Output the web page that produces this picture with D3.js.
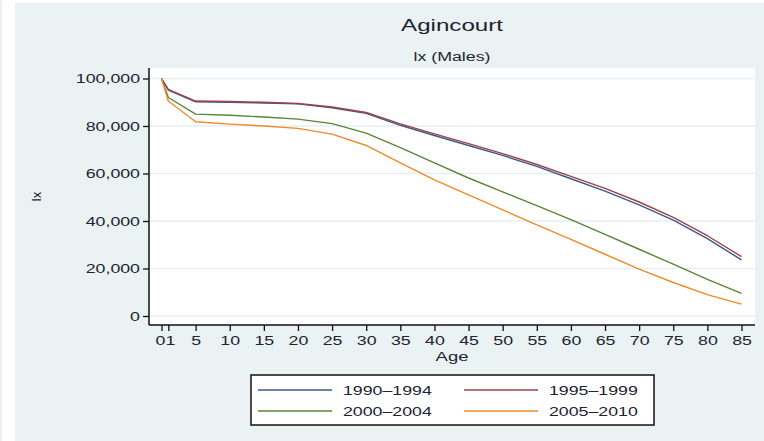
<!DOCTYPE html>
<html>
<head>
<meta charset="utf-8">
<script src="https://cdn.jsdelivr.net/npm/d3@7"></script>
<style>
  html, body { margin: 0; padding: 0; background: #ffffff; }
  svg { display: block; font-family: "Liberation Sans", Arial, Helvetica, sans-serif; }
</style>
</head>
<body>
<svg id="chart" width="764" height="441"></svg>
<script>
// Life-table survivors lx (males), Agincourt, by age and period
const ages = [0, 1, 5, 10, 15, 20, 25, 30, 35, 40, 45, 50, 55, 60, 65, 70, 75, 80, 85];
const lx1990 = [100000, 95100, 90200, 90000, 89700, 89300, 87700, 85300, 80300, 76000, 71800, 67600, 63000, 57800, 52600, 46800, 40400, 32600, 23600];
const lx1995 = [100000, 95400, 90500, 90300, 90000, 89500, 88000, 85700, 80900, 76700, 72600, 68400, 63800, 58800, 53700, 48000, 41500, 33800, 25000];
const lx2000 = [100000, 92000, 85000, 84500, 83800, 82900, 81000, 77000, 70900, 64500, 58100, 52300, 46500, 40600, 34400, 28100, 21800, 15400, 9500];
const lx2005 = [100000, 90500, 81800, 80800, 80000, 79000, 76600, 71800, 64500, 57300, 51000, 44700, 38400, 32300, 26000, 19700, 14100, 9000, 5000];
const periods = ["1990\u20131994", "1995\u20131999", "2000\u20132004", "2005\u20132010"];
const xTicks = [0, 1, 5, 10, 15, 20, 25, 30, 35, 40, 45, 50, 55, 60, 65, 70, 75, 80, 85];
const yTicks = [0, 20000, 40000, 60000, 80000, 100000];

const colors = ["#3b5b86", "#9c434a", "#5a8438", "#ee8a2a"];
const seriesValues = [lx1990, lx1995, lx2000, lx2005];

// text in this graph is set wide
const STRETCH = 1.42;
const TEXT = "#1e2430";

const svg = d3.select("#chart");

// place a horizontally widened label with its anchor at (x, y)
function label(parent, x, y, str, size, anchor) {
  return parent.append("text")
    .attr("transform", `translate(${x},${y}) scale(${STRETCH},1)`)
    .attr("text-anchor", anchor || "start")
    .attr("font-size", size)
    .attr("fill", TEXT)
    .text(str);
}

// outer graph region
svg.append("rect").attr("x", 0).attr("y", 0).attr("width", 2).attr("height", 441).attr("fill", "#eaf1f3");
svg.append("rect").attr("x", 15).attr("y", 3).attr("width", 749).attr("height", 438).attr("fill", "#eaf2f4");

// plot region
const plot = { left: 149, right: 755, top: 68, bottom: 325 };
svg.append("rect")
  .attr("x", plot.left).attr("y", plot.top)
  .attr("width", plot.right - plot.left).attr("height", plot.bottom - plot.top)
  .attr("fill", "#ffffff");

const x = d3.scaleLinear().domain([0, 85]).range([161.5, 741.5]);
const y = d3.scaleLinear().domain([0, 100000]).range([316, 78.5]);

// horizontal gridlines
svg.append("g").selectAll("line").data(yTicks).join("line")
  .attr("x1", plot.left + 1).attr("x2", plot.right)
  .attr("y1", d => y(d)).attr("y2", d => y(d))
  .attr("stroke", "#e6eef3").attr("stroke-width", 1.5);

// axes
const fmt = d3.format(",");
const yAxis = svg.append("g")
  .attr("transform", `translate(${plot.left},0)`)
  .call(d3.axisLeft(y).tickValues(yTicks).tickFormat(fmt).tickSize(6).tickPadding(3).tickSizeOuter(0));
yAxis.select(".domain").attr("d", `M0,${plot.top}V${plot.bottom}`);

const xAxis = svg.append("g")
  .attr("transform", `translate(0,${plot.bottom})`)
  .call(d3.axisBottom(x).tickValues(xTicks).tickFormat(d3.format("d")).tickSize(6).tickPadding(5).tickSizeOuter(0));
xAxis.select(".domain").attr("d", `M${plot.left},0H${plot.right}`);

[xAxis, yAxis].forEach(g => {
  g.select(".domain").attr("stroke", "#111").attr("stroke-width", 1.5).attr("fill", "none");
  g.selectAll(".tick line").attr("stroke", "#111").attr("stroke-width", 1.3);
  g.selectAll(".tick text")
    .attr("fill", TEXT).attr("font-size", 12.5)
    .attr("font-family", "\"Liberation Sans\", Arial, sans-serif")
    .each(function (d) {
      // move the axis offset into a transform so the label widens about its anchor
      const t = d3.select(this);
      let tx = +t.attr("x") || 0;
      const ty = +t.attr("y") || 0;
      if (g === xAxis) tx += d === 0 ? -1.5 : d === 1 ? 1.5 : 0;
      t.attr("x", null).attr("y", null)
        .attr("transform", `translate(${tx},${ty}) scale(${STRETCH},1)`);
    });
});

// series lines
const line = d3.line().x((d, i) => x(ages[i])).y(d => y(d));
svg.append("g").selectAll("path").data(seriesValues).join("path")
  .attr("d", d => line(d))
  .attr("fill", "none")
  .attr("stroke", (d, i) => colors[i])
  .attr("stroke-width", 1.4)
  .attr("stroke-linejoin", "round");

// titles
const cx = (plot.left + plot.right) / 2;
label(svg, cx, 31, "Agincourt", 17, "middle");
label(svg, cx, 61, "lx (Males)", 12.5, "middle");
label(svg, cx, 361, "Age", 13, "middle");
svg.append("text").attr("transform", `translate(41,${(plot.top + plot.bottom) / 2}) rotate(-90)`)
  .attr("text-anchor", "middle").attr("font-size", 13).attr("fill", TEXT).text("lx");

// legend
const legend = svg.append("g");
legend.append("rect").attr("x", 251).attr("y", 375).attr("width", 403).attr("height", 50)
  .attr("fill", "#ffffff").attr("stroke", "#111").attr("stroke-width", 1.5);
const cols = [258, 464];
const rows = [390, 411];
periods.forEach((p, i) => {
  const lx0 = cols[i % 2], ly = rows[Math.floor(i / 2)];
  legend.append("line").attr("x1", lx0).attr("x2", lx0 + 74).attr("y1", ly).attr("y2", ly)
    .attr("stroke", colors[i]).attr("stroke-width", 1.4);
  label(legend, lx0 + 85, ly + 4.5, p, 12.5, "start");
});
</script>
</body>
</html>
